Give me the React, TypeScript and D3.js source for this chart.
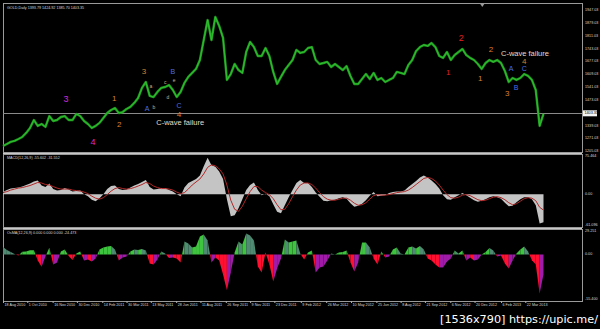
import React from "react";
import * as d3 from "d3";

const W = 600;
const H = 329;

// weekly samples starting 18 Aug 2010
const startDate = new Date(2010, 7, 18);
const stepDays = 7;

const closes = [
  1231, 1242, 1253, 1258, 1268, 1279, 1300, 1326, 1368, 1337,
  1347, 1332, 1389, 1363, 1368, 1384, 1389, 1368, 1368, 1400,
  1389, 1363, 1347, 1326, 1337, 1353, 1379, 1405, 1421, 1431,
  1405, 1410, 1426, 1437, 1458, 1484, 1537, 1568, 1495, 1489,
  1516, 1537, 1542, 1552, 1526, 1489, 1516, 1563, 1595, 1616,
  1637, 1684, 1789, 1894, 1789, 1910, 1863, 1800, 1579, 1610,
  1663, 1631, 1616, 1726, 1779, 1752, 1705, 1705, 1747, 1705,
  1621, 1558, 1595, 1631, 1658, 1684, 1737, 1721, 1726, 1747,
  1752, 1684, 1663, 1668, 1674, 1647, 1663, 1647, 1631, 1652,
  1600, 1558, 1558, 1584, 1610, 1584, 1616, 1579, 1589, 1568,
  1579, 1589, 1621, 1616, 1610, 1658, 1684, 1731, 1752, 1763,
  1758, 1773, 1752, 1705, 1695, 1726, 1684, 1710, 1726, 1742,
  1710, 1695, 1684, 1663, 1637, 1668, 1684, 1674, 1684, 1668,
  1626, 1568, 1589, 1579, 1589, 1610, 1600, 1579, 1526, 1337,
  1400,
];

const macd = [
  4, 8, 11, 12, 13, 15, 18, 21, 25, 27,
  17, 14, 21, 10, 7, 8, 12, 9, 5, 6,
  7, 0, -4, -11, -14, -8, 0, 10, 16, 17,
  10, 8, 9, 13, 17, 20, 24, 28, 14, 9,
  10, 12, 12, 8, 5, 0, -4, 13, 22, 26,
  30, 37, 55, 72, 57, 54, 45, 30, -10, -44,
  -42, -28, -10, 8, 18, 23, 8, -2, 1, -4,
  -20, -35, -38, -22, -6, 8, 22, 28, 22, 22,
  14, 3, -5, -13, -14, -12, -11, -8, -6, -9,
  -18, -25, -23, -19, -12, -3, 4, -4, -3, -2,
  2, 4, 5, 5, 7, 14, 20, 26, 33, 37,
  33, 27, 20, 11, -2, -10, -11, -6, -2, 2,
  -2, -7, -12, -15, -13, -10, -6, -4, -6, -9,
  -17, -24, -23, -16, -10, -6, -6, -10, -22, -58,
  -55.6,
];

const signal = [
  3, 5, 8, 10, 12, 13, 15, 17, 20, 23,
  22, 19, 18, 15, 12, 10, 10, 10, 8, 7,
  6, 4, 1, -4, -8, -10, -7, -1, 6, 11,
  13, 11, 10, 11, 13, 16, 19, 23, 21, 16,
  13, 11, 11, 10, 8, 4, 1, 3, 10, 18,
  24, 30, 40, 53, 58, 56, 50, 40, 18, -12,
  -30, -34, -24, -9, 5, 15, 15, 8, 3, -1,
  -9, -21, -31, -30, -19, -5, 8, 18, 22, 22,
  19, 12, 3, -5, -10, -12, -12, -10, -8, -8,
  -12, -18, -22, -21, -17, -10, -3, -1, -2, -2,
  -1, 1, 3, 4, 5, 8, 13, 19, 25, 31,
  33, 31, 26, 18, 8, -1, -7, -8, -6, -2,
  -1, -3, -7, -11, -13, -12, -9, -6, -5, -7,
  -11, -17, -21, -19, -14, -9, -7, -8, -13, -26,
  -31.6,
];

const osma = [
  9.3, 5.6, 3.1, 0.6, -1.2, 3.3, 3.7, 5.3, 5.3, -7.4,
  -15.3, -2.5, 8.3, -12.4, -9.9, 3.7, 6.2, -1.9, -6.8, 1.2,
  3.7, -7.4, -6.2, -8.7, -5.0, 6.2, 8.7, 9.9, 10.5, 6.2,
  -7.4, -3.7, -2.5, 3.7, 6.2, 5.6, 6.8, 5.0, -11.2, -12.4,
  -6.2, 3.7, 1.2, -4.3, -3.7, -5.0, -9.9, 16.1, 13.6, 8.7,
  9.9, 22.3, 24.8, 17.4, -9.9, -3.7, -7.4, -24.8, -44.6, -22.3,
  2.5, 16.1, 12.4, 26.0, 23.6, 17.4, -14.9, -22.3, 2.5, -12.4,
  -33.5, -17.4, -5.0, 18.6, 14.9, 16.1, 17.4, 1.2, -6.2, 2.5,
  5.0, -22.3, -16.1, -14.9, -7.4, 1.2, 0, 2.5, 3.1, 5.0,
  -9.9, -21.1, -9.9, 14.9, 14.9, 8.7, -5.0, -12.4, 3.7, -3.7,
  -2.5, 6.2, 8.7, 1.2, 0, 8.7, 9.9, 7.4, 10.5, 6.2,
  -5.0, -7.4, -12.4, -16.1, -16.1, -8.7, -5.0, 5.0, 1.2, 5.0,
  -7.4, -3.7, -7.4, -6.2, 0, 3.1, 8.1, 5.0, -2.5, -1.2,
  -11.2, -17.4, -7.4, 1.2, 6.2, 9.9, 3.7, -7.1, -12.4, -48.4,
  -24.5,
];

const xTickLabels = [
  "18 Aug 2010", "1 Oct 2010", "16 Nov 2010", "30 Dec 2010", "14 Feb 2011",
  "30 Mar 2011", "13 May 2011", "28 Jun 2011", "11 Aug 2011", "26 Sep 2011",
  "9 Nov 2011", "23 Dec 2011", "9 Feb 2012", "26 Mar 2012", "10 May 2012",
  "25 Jun 2012", "8 Aug 2012", "21 Sep 2012", "6 Nov 2012", "20 Dec 2012",
  "6 Feb 2013", "22 Mar 2013",
];

const priceTicks = [1947.03, 1879.03, 1811.03, 1743.03, 1677.03, 1609.03, 1541.03, 1473.03, 1339.03, 1271.03, 1205.03];
const lastPrice = 1403.35;
const macdTicks = [75.464, 0, -61.096];
const osmaTicks = [29.251, 0, -55.4];

const mainTitle = "GOLD,Daily  1393.79 1424.92 1385.70 1403.35";
const macdTitle = "MACD(12,26,9) -55.602 -31.552";
const osmaTitle = "OsMA(12,26,9) 0.000 0.000 0.000 -24.473";

type Note = { k: number; price: number; text: string; color: string; size: number };
const annotations: Note[] = [
  { k: 16.3, price: 1479, text: "3", color: "#d828d8", size: 9 },
  { k: 23.3, price: 1253, text: "4", color: "#d828d8", size: 9 },
  { k: 28.8, price: 1479, text: "1", color: "#d98030", size: 8 },
  { k: 30.1, price: 1342, text: "2", color: "#d98030", size: 8 },
  { k: 36.5, price: 1621, text: "3", color: "#d98030", size: 8 },
  { k: 38.3, price: 1547, text: "a", color: "#c8b090", size: 5 },
  { k: 39.1, price: 1437, text: "b", color: "#c8b090", size: 5 },
  { k: 37.3, price: 1431, text: "A", color: "#4a6ee0", size: 7 },
  { k: 42.0, price: 1568, text: "c", color: "#c8b090", size: 5 },
  { k: 42.7, price: 1489, text: "d", color: "#c8b090", size: 5 },
  { k: 44.3, price: 1579, text: "e", color: "#c8b090", size: 5 },
  { k: 44.0, price: 1621, text: "B", color: "#4a6ee0", size: 7 },
  { k: 45.6, price: 1442, text: "C", color: "#4a6ee0", size: 7 },
  { k: 45.6, price: 1395, text: "4", color: "#d98030", size: 8 },
  { k: 45.9, price: 1353, text: "C-wave failure", color: "#e8dcc4", size: 7.5 },
  { k: 118.7, price: 1800, text: "2", color: "#e02020", size: 9 },
  { k: 115.3, price: 1616, text: "1", color: "#e02020", size: 8 },
  { k: 126.4, price: 1737, text: "2", color: "#d98030", size: 8 },
  { k: 135.2, price: 1716, text: "C-wave failure", color: "#e8dcc4", size: 7.5 },
  { k: 135.0, price: 1674, text: "4", color: "#d98030", size: 8 },
  { k: 131.6, price: 1637, text: "A", color: "#4a6ee0", size: 7 },
  { k: 135.0, price: 1637, text: "C", color: "#4a6ee0", size: 7 },
  { k: 123.6, price: 1584, text: "1", color: "#d98030", size: 8 },
  { k: 130.6, price: 1510, text: "3", color: "#d98030", size: 8 },
  { k: 132.9, price: 1537, text: "B", color: "#4a6ee0", size: 7 },
];

const FONT = "'Liberation Sans', Arial, sans-serif";

export default function App() {
  const left = 3;
  const right = 582;
  const main = { top: 3, bottom: 152 };
  const mp = { top: 154, bottom: 227 };
  const op = { top: 229, bottom: 301 };

  const dateAt = (k: number) => d3.timeHour.offset(startDate, Math.round(k * stepDays * 24));
  const dates = closes.map((_, i) => d3.timeDay.offset(startDate, i * stepDays));

  const x = d3.scaleTime().domain([new Date(2010, 7, 18), new Date(2013, 6, 1)]).range([left, right - 1]);
  const yP = d3.scaleLinear().domain([1205.03, 1947.03]).range([151, 10]);
  const yM = d3.scaleLinear().domain([-61.096, 75.464]).range([225, 156]);
  const yO = d3.scaleLinear().domain([-55.4, 29.251]).range([299, 231]);

  const priceLine = d3.line<number>().x((_, i) => x(dates[i])).y((d) => yP(d)).curve(d3.curveLinear);
  const macdArea = d3.area<number>().x((_, i) => x(dates[i])).y0(yM(0)).y1((d) => yM(d));
  const sigLine = d3.line<number>().x((_, i) => x(dates[i])).y((d) => yM(d));

  const parse = d3.timeParse("%d %b %Y");

  const colorFor = (v: number, prev: number) => {
    if (v >= 0) return v >= prev ? "#3ec43e" : "#4f8a72";
    return v < prev ? "#ff1030" : "#a01ca8";
  };

  const osmaPolys: { pts: string; fill: string }[] = [];
  const z = yO(0);
  for (let i = 0; i < osma.length - 1; i++) {
    const v0 = osma[i];
    const v1 = osma[i + 1];
    const x0 = x(dates[i]);
    const x1 = x(dates[i + 1]);
    const c1 = colorFor(v1, v0);
    const c0 = colorFor(v0, i > 0 ? osma[i - 1] : v0);
    if ((v0 >= 0) === (v1 >= 0)) {
      osmaPolys.push({ pts: `${x0},${z} ${x0},${yO(v0)} ${x1},${yO(v1)} ${x1},${z}`, fill: c1 });
    } else {
      const t = v0 / (v0 - v1);
      const xc = x0 + t * (x1 - x0);
      osmaPolys.push({ pts: `${x0},${z} ${x0},${yO(v0)} ${xc},${z}`, fill: c0 });
      osmaPolys.push({ pts: `${xc},${z} ${x1},${yO(v1)} ${x1},${z}`, fill: c1 });
    }
  }

  const axisTxt = { fontFamily: FONT, fontSize: 3.7, fill: "#d8d8d8" } as const;
  const frame = "#9a9a9a";

  return (
    <svg width={W} height={H} style={{ position: "absolute", left: 0, top: 0, background: "#000" }}>
      <rect x={0} y={0} width={W} height={H} fill="#000" />

      {/* panel frames */}
      <rect x={left + 0.5} y={main.top + 0.5} width={right - left} height={main.bottom - main.top} fill="none" stroke={frame} strokeWidth={1} />
      <rect x={left + 0.5} y={mp.top + 0.5} width={right - left} height={mp.bottom - mp.top} fill="none" stroke={frame} strokeWidth={1} />
      <rect x={left + 0.5} y={op.top + 0.5} width={right - left} height={op.bottom - op.top} fill="none" stroke={frame} strokeWidth={1} />
      <line x1={left} x2={right} y1={main.bottom + 1.5} y2={main.bottom + 1.5} stroke="#c8c8c8" strokeWidth={1} />
      <line x1={left} x2={right} y1={mp.bottom + 1.5} y2={mp.bottom + 1.5} stroke="#c8c8c8" strokeWidth={1} />

      {/* chart shift marker */}
      <path d={`M${x(new Date(2013, 0, 3)) - 2},${main.top + 1} L${x(new Date(2013, 0, 3)) + 2},${main.top + 1} L${x(new Date(2013, 0, 3))},${main.top + 4} Z`} fill="#9a9a9a" />

      {/* last price line */}
      <line x1={left} x2={right} y1={Math.round(yP(lastPrice)) + 0.5} y2={Math.round(yP(lastPrice)) + 0.5} stroke="#8a8a8a" strokeWidth={1} />

      {/* price */}
      <path d={priceLine(closes) || ""} fill="none" stroke="#1f9a1f" strokeWidth={2.4} strokeLinejoin="round" />
      <path d={priceLine(closes) || ""} fill="none" stroke="#34c834" strokeWidth={0.8} strokeLinejoin="round" />

      {annotations.map((a, i) => (
        <text key={i} x={x(dateAt(a.k))} y={yP(a.price)} fill={a.color} fontFamily={FONT} fontSize={a.size} textAnchor="middle" dominantBaseline="central">
          {a.text}
        </text>
      ))}

      <text x={7} y={9} {...axisTxt}>{mainTitle}</text>

      {/* price axis */}
      {priceTicks.map((t) => (
        <text key={t} x={585} y={yP(t)} {...axisTxt} dominantBaseline="central">{t.toFixed(2)}</text>
      ))}
      <rect x={583} y={yP(lastPrice) - 3} width={14} height={6} fill="#f4f4f4" />
      <text x={584.5} y={yP(lastPrice)} fontFamily={FONT} fontSize={3.7} fill="#000" dominantBaseline="central">{lastPrice.toFixed(2)}</text>

      {/* MACD */}
      <path d={macdArea(macd) || ""} fill="#c4c4c4" />
      <path d={sigLine(signal) || ""} fill="none" stroke="#b02828" strokeWidth={1} />
      <text x={7} y={159} {...axisTxt}>{macdTitle}</text>
      {macdTicks.map((t) => (
        <text key={t} x={585} y={yM(t)} {...axisTxt} dominantBaseline="central">{t === 0 ? "0.00" : t.toFixed(3)}</text>
      ))}

      {/* OsMA */}
      {osmaPolys.map((p, i) => (
        <polygon key={i} points={p.pts} fill={p.fill} />
      ))}
      <text x={7} y={234} {...axisTxt}>{osmaTitle}</text>
      {osmaTicks.map((t) => (
        <text key={t} x={585} y={yO(t)} {...axisTxt} dominantBaseline="central">{t === 0 ? "0.00" : t.toFixed(3)}</text>
      ))}

      {/* time axis */}
      {xTickLabels.map((lab) => {
        const d = parse(lab) as Date;
        const xp = x(d);
        return (
          <g key={lab}>
            <line x1={xp + 0.5} x2={xp + 0.5} y1={op.bottom} y2={op.bottom + 2} stroke="#b0b0b0" strokeWidth={1} />
            <text x={xp + 1.5} y={306} {...axisTxt}>{lab}</text>
          </g>
        );
      })}

      {/* watermark */}
      <text x={440} y={323} fill="#ffffff" fontFamily="'DejaVu Sans', sans-serif" fontSize={11} textLength={158} lengthAdjust="spacingAndGlyphs">
        [1536x790] https://upic.me/
      </text>
    </svg>
  );
}
